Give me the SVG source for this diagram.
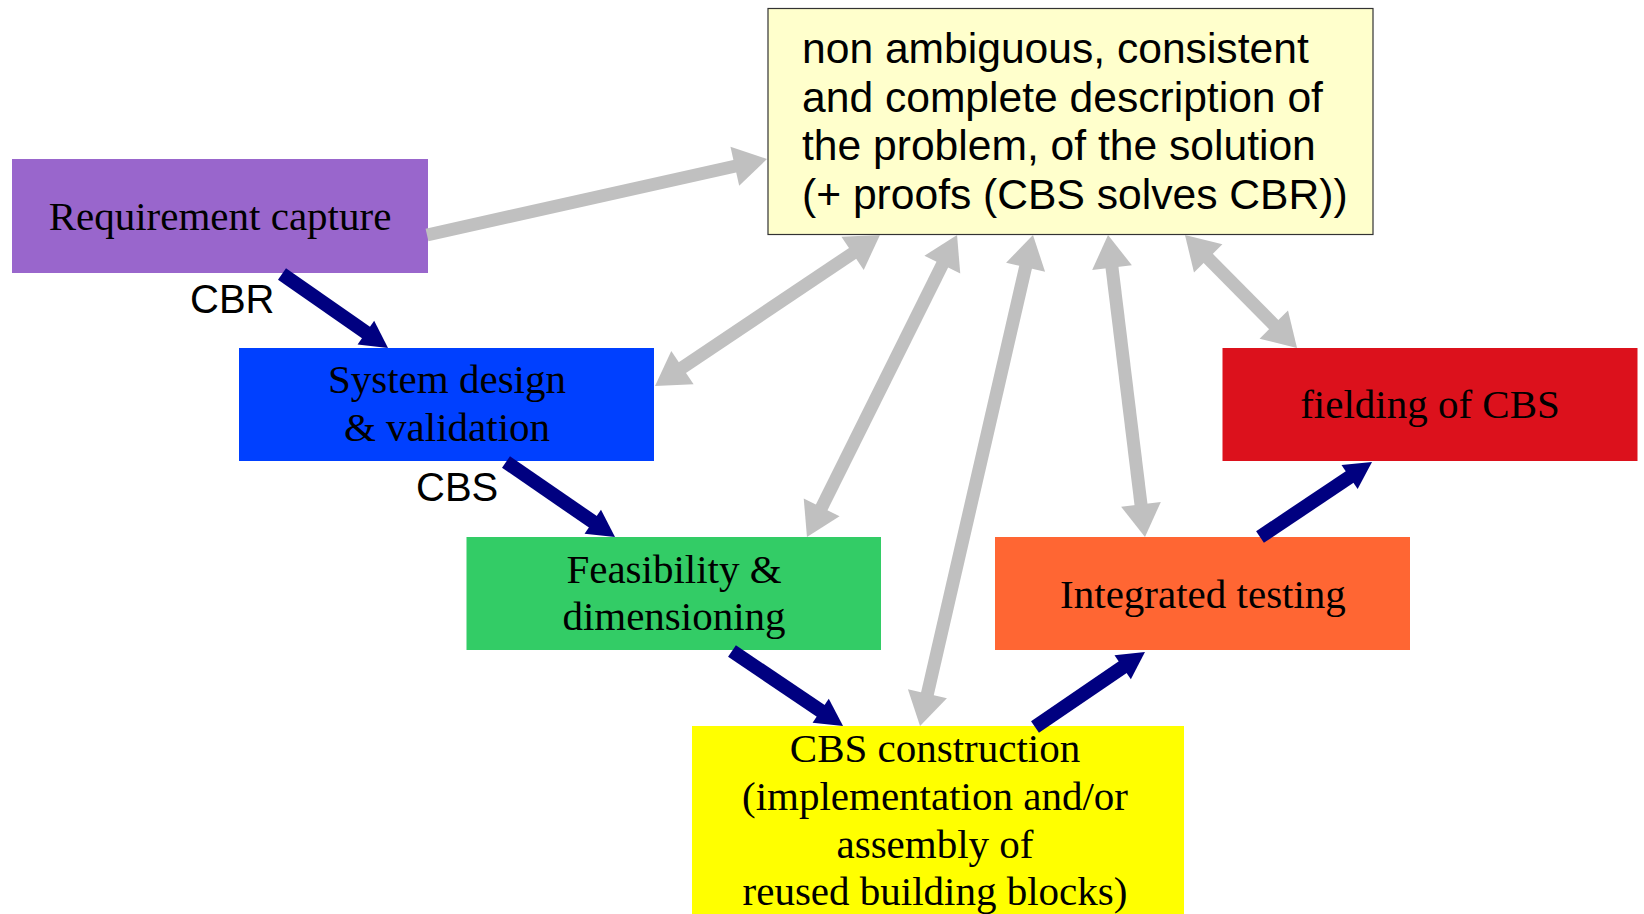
<svg xmlns="http://www.w3.org/2000/svg" width="1644" height="914" viewBox="0 0 1644 914">
<style>
.serif{font-family:"Liberation Serif","Times New Roman",serif;font-size:41px;fill:#000;text-anchor:middle}
.sans{font-family:"Liberation Sans",Arial,sans-serif;fill:#000}
.nv{fill:none;stroke:#000080;stroke-width:14;marker-end:url(#hn)}
.gr{fill:none;stroke:#C0C0C0;stroke-width:13;marker-end:url(#hg)}
.gr2{marker-start:url(#hg)}
</style>
<defs>
<marker id="hn" markerUnits="userSpaceOnUse" markerWidth="27" markerHeight="29" refX="1" refY="14.5" orient="auto-start-reverse" overflow="visible">
<path d="M0,0 L27,14.5 L0,29 z" fill="#000080"/>
</marker>
<marker id="hg" markerUnits="userSpaceOnUse" markerWidth="33" markerHeight="40" refX="1" refY="20" orient="auto-start-reverse" overflow="visible">
<path d="M0,0 L33,20 L0,40 z" fill="#C0C0C0"/>
</marker>
</defs>
<rect width="1644" height="914" fill="#fff"/>
<g id="top-box">
<rect x="768" y="8.5" width="605" height="226" fill="#FFFFCC" stroke="#333" stroke-width="1.2"/>
<text class="sans" font-size="42.6" x="802" y="63">non ambiguous, consistent</text>
<text class="sans" font-size="42.6" x="802" y="112">and complete description of</text>
<text class="sans" font-size="42.6" x="802" y="160">the problem, of the solution</text>
<text class="sans" font-size="42.6" x="802" y="209">(+ proofs (CBS solves CBR))</text>
</g>
<g id="requirement-capture">
<rect x="12" y="159" width="416" height="114" fill="#9966CC"/>
<text class="serif" x="220" y="230">Requirement capture</text>
</g>
<g id="system-design">
<rect x="239" y="348" width="415" height="113" fill="#0040FF"/>
<text class="serif" x="447" y="393">System design</text>
<text class="serif" x="447" y="441">&amp; validation</text>
</g>
<g id="feasibility">
<rect x="466.5" y="537" width="414.5" height="113" fill="#33CC66"/>
<text class="serif" x="674" y="583">Feasibility &amp;</text>
<text class="serif" x="674" y="630">dimensioning</text>
</g>
<g id="cbs-construction">
<rect x="692" y="726" width="492" height="188" fill="#FFFF00"/>
<text class="serif" x="935" y="762">CBS construction</text>
<text class="serif" x="935" y="810">(implementation and/or</text>
<text class="serif" x="935" y="858">assembly of</text>
<text class="serif" x="935" y="905">reused building blocks)</text>
</g>
<g id="integrated-testing">
<rect x="995" y="537" width="415" height="113" fill="#FF6633"/>
<text class="serif" x="1203" y="608">Integrated testing</text>
</g>
<g id="fielding">
<rect x="1222.5" y="348" width="415" height="113" fill="#DC111C"/>
<text class="serif" x="1430" y="418">fielding of CBS</text>
</g>
<g id="connectors">
<path class="nv" d="M282,274 L366.7,333.1"/>
<path class="nv" d="M506,462 L593.6,522.3"/>
<path class="nv" d="M732,651 L821.5,711.4"/>
<path class="nv" d="M1035,727 L1123.5,666.6"/>
<path class="nv" d="M1260,537 L1350.4,476.5"/>
<path class="gr" d="M427,235 L735.8,166"/>
<path class="gr gr2" d="M853.4,252.8 L681.6,368.2"/>
<path class="gr gr2" d="M942.8,263.7 L821.2,508.3"/>
<path class="gr gr2" d="M1025.8,266.2 L927.2,694.8"/>
<path class="gr gr2" d="M1111.9,266.7 L1141.1,505.3"/>
<path class="gr gr2" d="M1207.5,257.7 L1274.5,325.3"/>
<text class="sans" font-size="40" x="190" y="313">CBR</text>
<text class="sans" font-size="40" x="416" y="501">CBS</text>
</g>
</svg>
